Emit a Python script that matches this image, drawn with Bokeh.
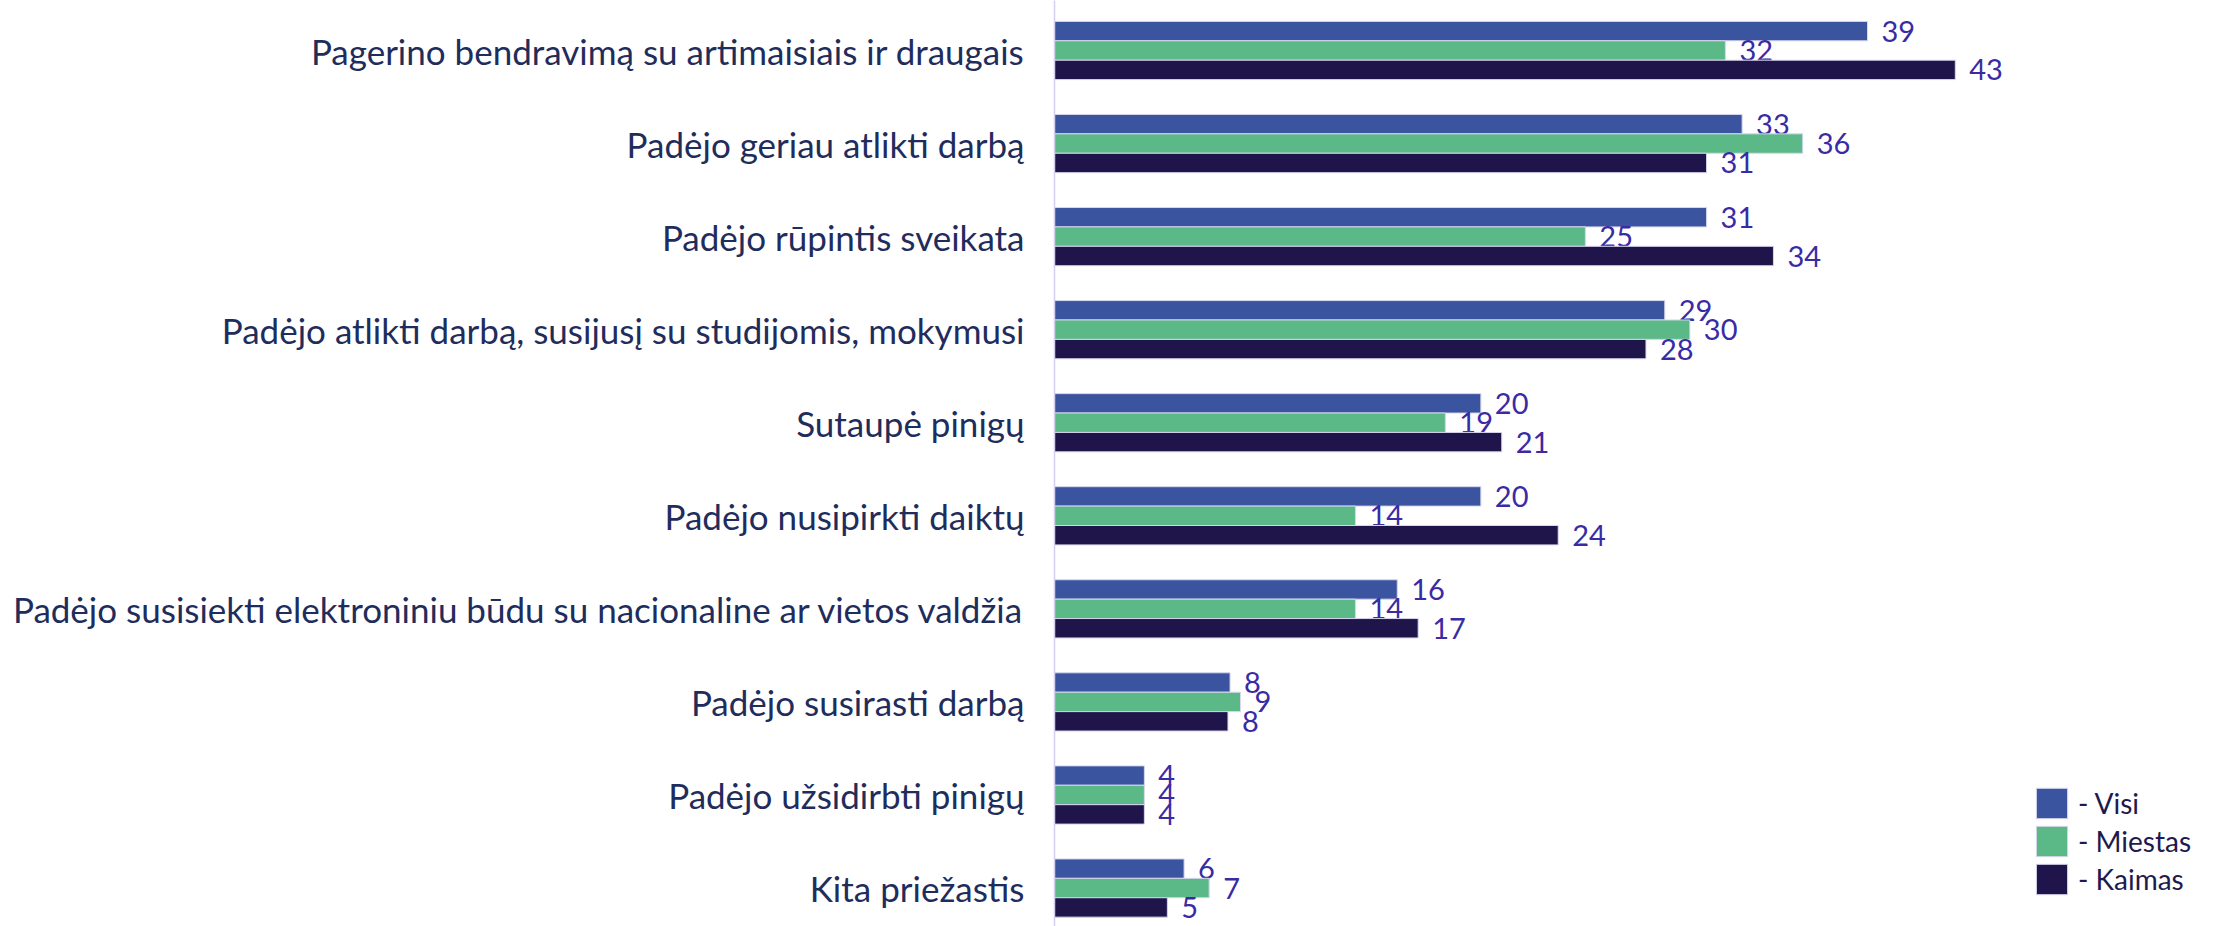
from bokeh.plotting import figure
from bokeh.models import ColumnDataSource, Range1d, FixedTicker, Legend, LegendItem
from bokeh.transform import dodge
from bokeh.core.properties import value
from bokeh.embed import file_html
from bokeh.resources import INLINE

categories = [
    "Pagerino bendravimą su artimaisiais ir draugais",
    "Padėjo geriau atlikti darbą",
    "Padėjo rūpintis sveikata",
    "Padėjo atlikti darbą, susijusį su studijomis, mokymusi",
    "Sutaupė pinigų",
    "Padėjo nusipirkti daiktų",
    "Padėjo susisiekti elektroniniu būdu su nacionaline ar vietos valdžia",
    "Padėjo susirasti darbą",
    "Padėjo užsidirbti pinigų",
    "Kita priežastis",
]
visi = [38.9, 32.9, 31.2, 29.2, 20.4, 20.4, 16.4, 8.4, 4.3, 6.2]
miestas = [32.1, 35.8, 25.4, 30.4, 18.7, 14.4, 14.4, 8.9, 4.3, 7.4]
kaimas = [43.1, 31.2, 34.4, 28.3, 21.4, 24.1, 17.4, 8.3, 4.3, 5.4]
series_names = ["- Visi", "- Miestas", "- Kaimas"]
colors = ["#3a54a0", "#5bb987", "#1f154b"]

idx = list(range(len(categories)))
source = ColumnDataSource(data=dict(
    idx=idx,
    visi=visi, miestas=miestas, kaimas=kaimas,
    visi_lbl=[f"{v:.0f}" for v in visi],
    miestas_lbl=[f"{v:.0f}" for v in miestas],
    kaimas_lbl=[f"{v:.0f}" for v in kaimas],
))

W, H = 2210, 926
LEFT = 1054
px_per_unit_x = 20.9
band = 93.06
top = -50.0 / band
bottom = top + H / band

p = figure(width=W, height=H, output_backend="svg", toolbar_location=None,
           x_range=Range1d(0, (W - LEFT) / px_per_unit_x),
           y_range=Range1d(bottom, top),
           min_border_left=LEFT, min_border_right=0, min_border_top=0, min_border_bottom=0,
           x_axis_location=None)
p.outline_line_color = None
p.xgrid.visible = False
p.ygrid.visible = False
p.background_fill_color = "white"

bar_h = 19.4 / band
keys = ["visi", "miestas", "kaimas"]
offsets = [-bar_h, 0.0, bar_h]
renderers = []
for k, off, c in zip(keys, offsets, colors):
    r = p.hbar(y=dodge("idx", off, range=p.y_range), right=k, left=0, height=bar_h,
               source=source, fill_color=c, line_color="#d6d6ee", line_width=1)
    renderers.append(r)
    p.text(x=k, y=dodge("idx", off, range=p.y_range), text=k + "_lbl", source=source,
           x_offset=14, text_baseline="middle", text_align="left",
           text_font=value("Lato"), text_font_size="29px", text_color="#3a2ba5")

yax = p.yaxis[0]
yax.ticker = FixedTicker(ticks=idx)
yax.major_label_overrides = {i: c for i, c in zip(idx, categories)}
yax.major_label_text_font = "Lato"
yax.major_label_text_font_size = "35px"
yax.major_label_text_color = "#1f2d5c"
yax.major_label_standoff = 24
yax.major_tick_line_color = None
yax.minor_tick_line_color = None
yax.axis_line_color = "#d2d0f0"
yax.axis_line_width = 1.5

legend = Legend(items=[LegendItem(label=n, renderers=[r]) for n, r in zip(series_names, renderers)],
                location=(978, 28), padding=0, margin=0, spacing=-8,
                glyph_width=39, glyph_height=38, label_height=30, label_standoff=7,
                label_text_font="Lato", label_text_font_size="28px", label_text_color="#1f1a4d",
                border_line_color=None, background_fill_alpha=0)
p.add_layout(legend)

open("out.html", "w").write(file_html(p, INLINE))
